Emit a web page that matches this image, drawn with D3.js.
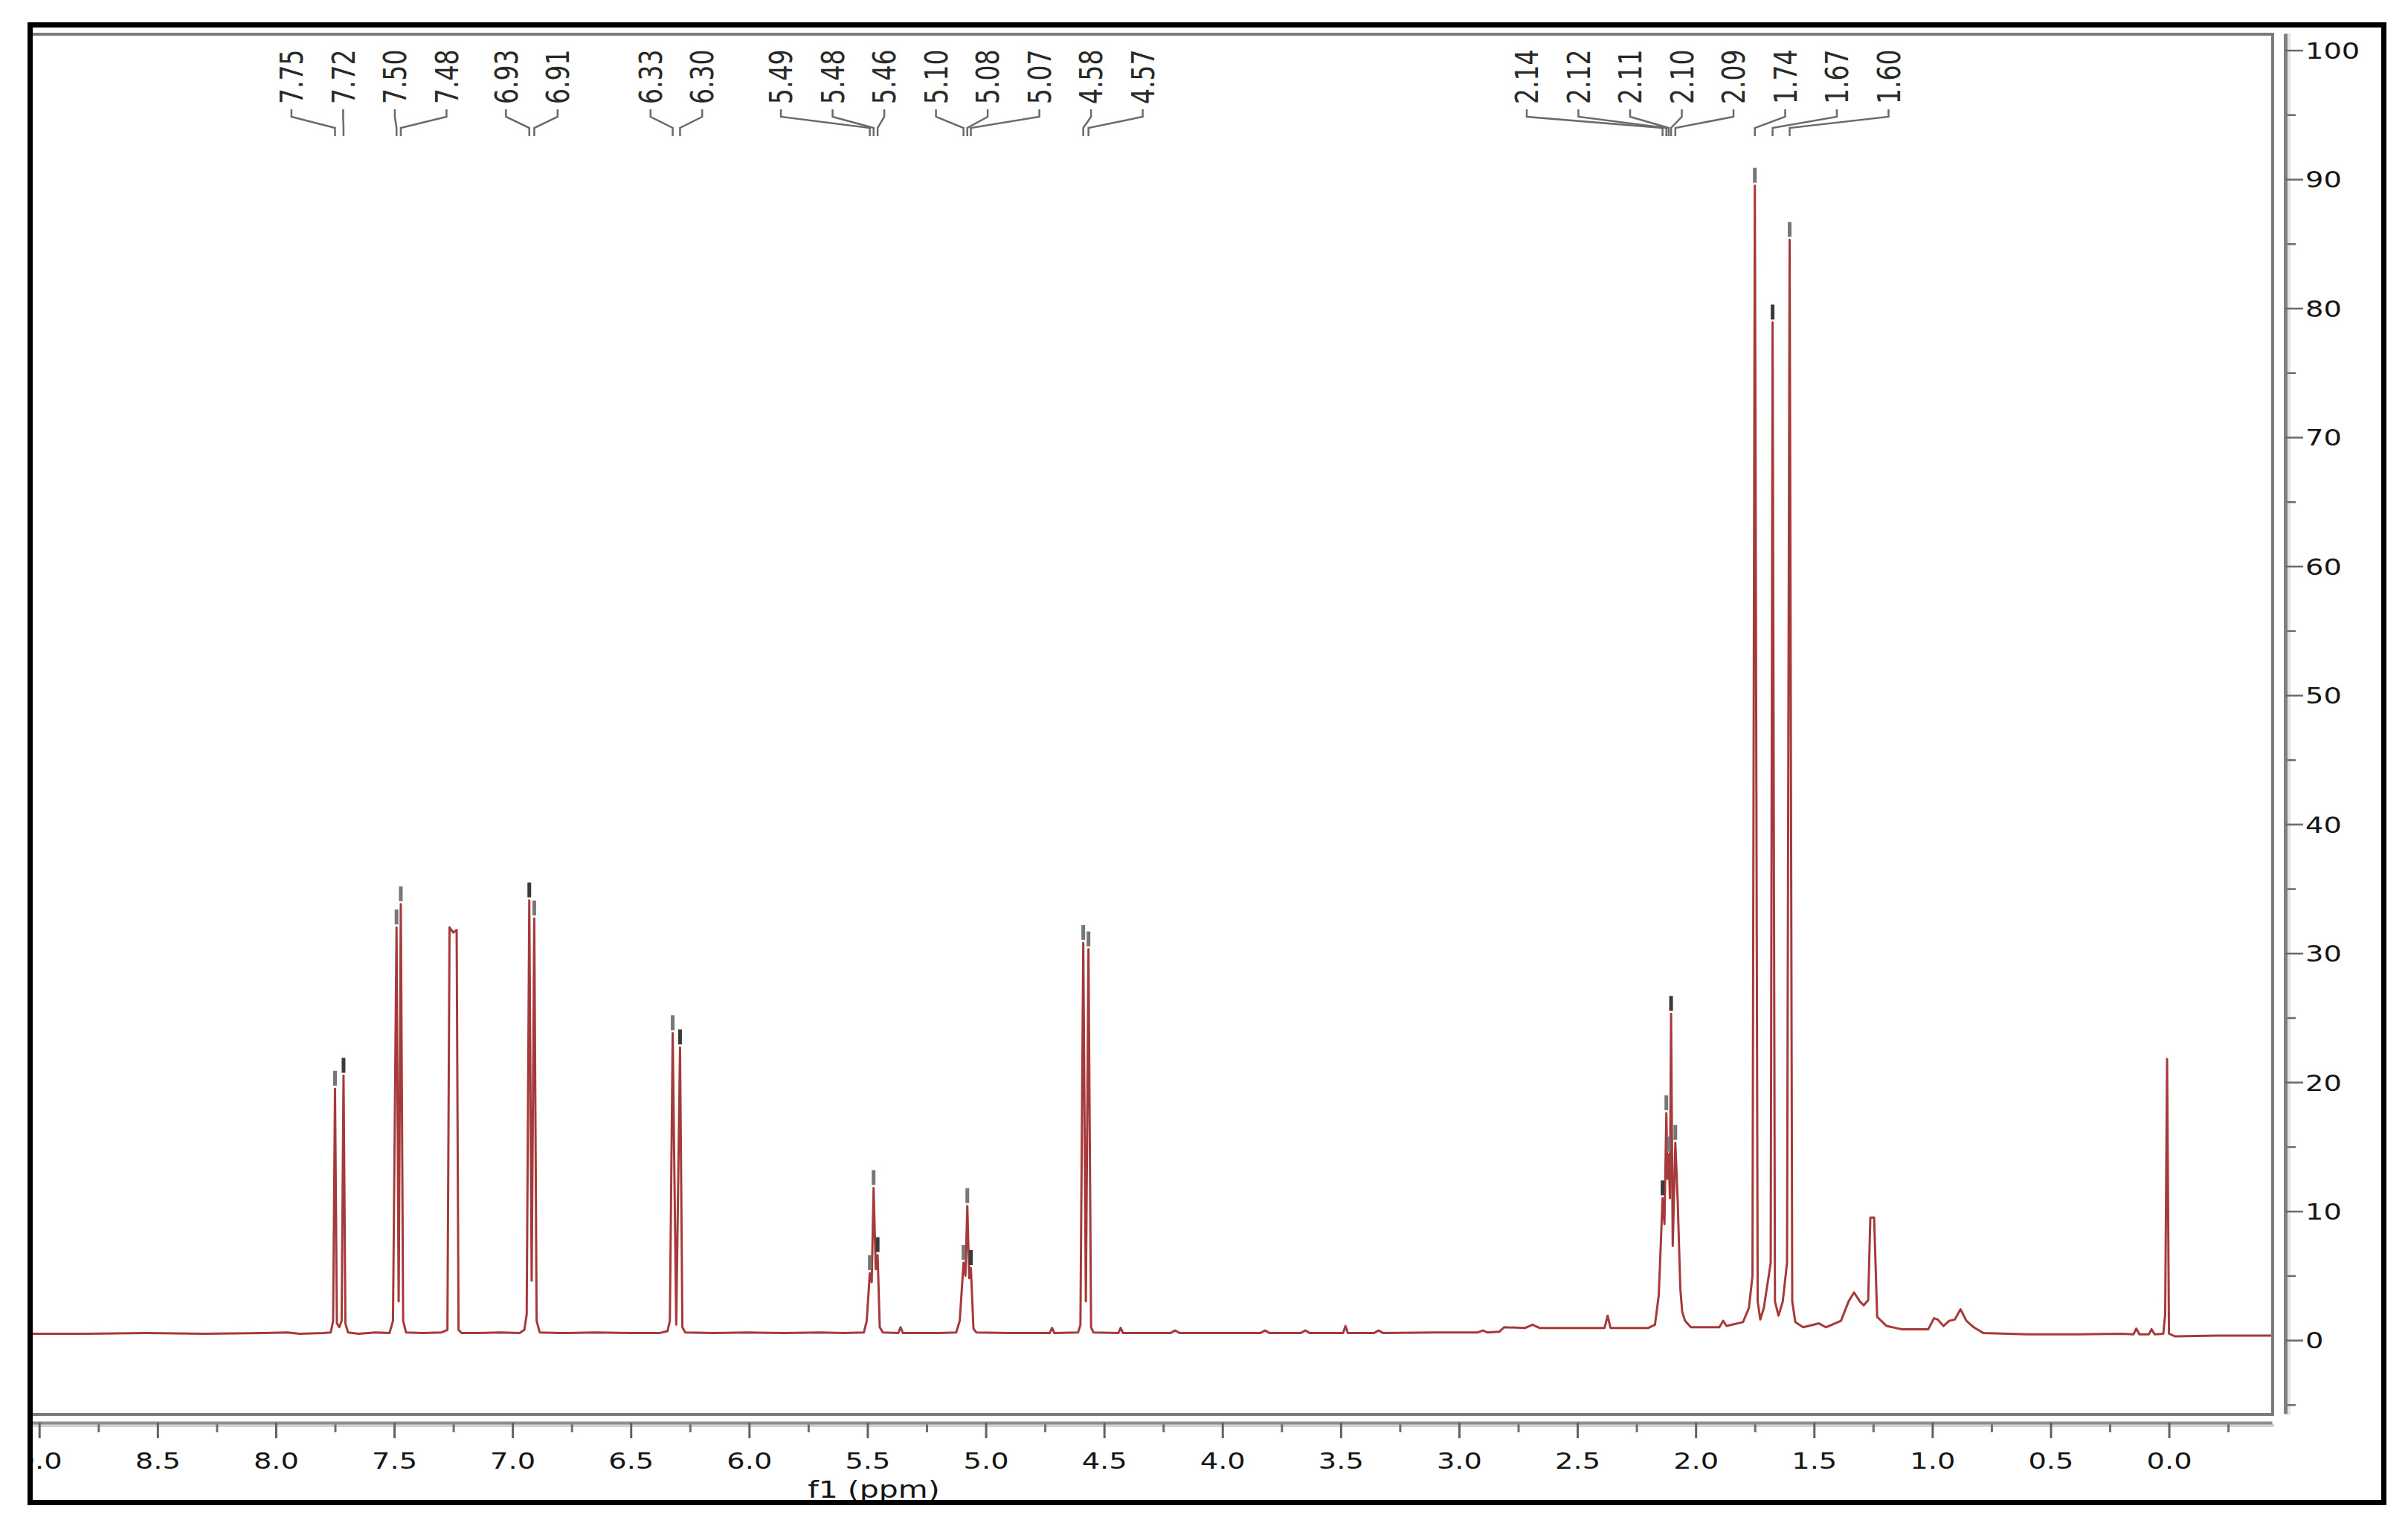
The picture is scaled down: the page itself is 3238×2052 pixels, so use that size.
<!DOCTYPE html>
<html>
<head>
<meta charset="utf-8">
<script src="https://cdn.jsdelivr.net/npm/d3@7"></script>
<style>
body { margin: 0; background: #fff; }
svg { display: block; }
</style>
</head>
<body>
<div id="nmr"></div>
<script>
var width = 3238, height = 2052;

// spectrum trace, [ppm, intensity]
var trace = [
  [9.04, 0.5], [8.80, 0.5], [8.55, 0.55], [8.30, 0.5], [8.05, 0.55], [7.95, 0.6], [7.90, 0.5], [7.80, 0.55],
  [7.768, 0.6], [7.758, 1.5], [7.750, 19.5], [7.742, 1.3], [7.732, 1.0], [7.722, 1.5], [7.714, 20.5], [7.706, 1.3], [7.695, 0.6],
  [7.65, 0.5], [7.58, 0.6], [7.52, 0.55],
  [7.505, 1.5], [7.490, 32.0], [7.481, 3.0], [7.472, 33.8], [7.462, 1.5], [7.450, 0.6],
  [7.38, 0.55], [7.30, 0.6],
  [7.275, 0.8], [7.266, 32.0], [7.250, 31.6], [7.236, 31.8], [7.228, 0.8], [7.215, 0.55],
  [7.15, 0.55], [7.05, 0.6], [6.97, 0.55],
  [6.950, 0.8], [6.940, 2.0], [6.929, 34.1], [6.919, 4.6], [6.908, 32.7], [6.898, 1.5], [6.885, 0.6],
  [6.80, 0.55], [6.65, 0.6], [6.50, 0.55], [6.38, 0.55], [6.345, 0.7],
  [6.335, 1.5], [6.323, 23.8], [6.308, 1.2], [6.292, 22.7], [6.282, 1.0], [6.270, 0.6],
  [6.15, 0.55], [6.00, 0.6], [5.85, 0.55], [5.70, 0.6], [5.60, 0.55], [5.515, 0.6],
  [5.503, 1.5], [5.490, 5.2], [5.482, 4.5], [5.474, 11.8], [5.465, 5.5], [5.457, 6.6], [5.448, 1.0], [5.435, 0.6],
  [5.37, 0.55], [5.36, 1.0], [5.35, 0.55], [5.20, 0.55], [5.125, 0.6],
  [5.110, 1.5], [5.094, 6.0], [5.086, 5.0], [5.078, 10.4], [5.070, 4.8], [5.063, 5.6], [5.052, 0.9], [5.040, 0.6],
  [4.90, 0.55], [4.73, 0.55], [4.72, 0.95], [4.71, 0.55], [4.61, 0.6],
  [4.600, 1.2], [4.588, 30.8], [4.577, 3.0], [4.566, 30.3], [4.555, 1.0], [4.545, 0.6],
  [4.44, 0.55], [4.43, 0.95], [4.42, 0.55], [4.22, 0.55], [4.20, 0.75], [4.18, 0.55],
  [3.84, 0.55], [3.82, 0.75], [3.80, 0.55], [3.67, 0.55], [3.65, 0.75], [3.63, 0.55],
  [3.49, 0.55], [3.48, 1.1], [3.47, 0.55], [3.36, 0.55], [3.34, 0.75], [3.32, 0.55],
  [3.10, 0.6], [2.92, 0.6], [2.90, 0.75], [2.88, 0.6], [2.83, 0.65], [2.81, 1.0],
  [2.72, 0.95], [2.69, 1.2], [2.66, 0.95], [2.40, 0.95], [2.385, 0.95], [2.372, 1.9], [2.36, 0.95], [2.20, 0.95],
  [2.172, 1.2], [2.156, 3.5], [2.148, 7.2],
  [2.140, 11.0], [2.132, 9.0], [2.124, 17.6], [2.119, 12.5], [2.114, 14.4], [2.109, 11.0], [2.104, 25.3],
  [2.097, 7.3], [2.086, 15.3], [2.076, 10.8], [2.065, 4.0], [2.057, 2.2], [2.045, 1.5], [2.02, 1.0],
  [1.90, 1.0], [1.884, 1.5], [1.87, 1.1], [1.80, 1.4], [1.775, 2.5],
  [1.760, 5.0], [1.750, 89.5], [1.738, 3.0], [1.727, 1.6], [1.712, 2.5],
  [1.683, 6.0], [1.675, 78.9], [1.665, 3.0], [1.650, 1.9], [1.632, 3.0],
  [1.614, 6.0], [1.603, 85.3], [1.592, 3.0], [1.579, 1.4], [1.546, 1.0], [1.479, 1.3], [1.45, 1.0],
  [1.386, 1.5], [1.354, 3.0], [1.331, 3.7], [1.306, 3.0], [1.290, 2.7], [1.271, 3.1],
  [1.262, 9.5], [1.246, 9.5], [1.233, 1.8], [1.193, 1.1], [1.13, 0.85], [1.017, 0.85],
  [0.993, 1.7], [0.977, 1.6], [0.953, 1.1], [0.929, 1.5], [0.905, 1.6], [0.881, 2.4], [0.856, 1.5],
  [0.825, 1.0], [0.784, 0.55], [0.60, 0.45], [0.40, 0.45], [0.20, 0.5], [0.15, 0.45], [0.138, 0.9], [0.125, 0.45],
  [0.085, 0.45], [0.074, 0.85], [0.06, 0.45], [0.024, 0.5], [0.016, 2.0], [0.008, 21.8], [0.000, 0.5],
  [-0.025, 0.3], [-0.20, 0.35], [-0.435, 0.35]
];

// picked peaks: label, position (ppm), top intensity, multiplet
var peakLabels = ["7.75", "7.72", "7.50", "7.48", "6.93", "6.91", "6.33", "6.30",
  "5.49", "5.48", "5.46", "5.10", "5.08", "5.07", "4.58", "4.57",
  "2.14", "2.12", "2.11", "2.10", "2.09", "1.74", "1.67", "1.60"];
var peakPpm = [7.750, 7.714, 7.490, 7.472, 6.929, 6.908, 6.323, 6.292,
  5.490, 5.474, 5.457, 5.094, 5.078, 5.063, 4.588, 4.566,
  2.140, 2.124, 2.114, 2.104, 2.086, 1.750, 1.675, 1.603];
var peakTop = [19.5, 20.5, 32.0, 33.8, 34.1, 32.7, 23.8, 22.7,
  5.2, 11.8, 6.6, 6.0, 10.4, 5.6, 30.8, 30.3,
  11.0, 17.6, 14.4, 25.3, 15.3, 89.5, 78.9, 85.3];
var peakGroup = [0, 0, 1, 1, 2, 2, 3, 3, 4, 4, 4, 5, 5, 5, 6, 6, 7, 7, 7, 7, 7, 8, 8, 8];

var xTicks = [9.0, 8.5, 8.0, 7.5, 7.0, 6.5, 6.0, 5.5, 5.0, 4.5, 4.0, 3.5, 3.0, 2.5, 2.0, 1.5, 1.0, 0.5, 0.0];
var yTicks = [0, 10, 20, 30, 40, 50, 60, 70, 80, 90, 100];

var x = d3.scaleLinear().domain([9.04, -0.435]).range([40, 3055]);
var y = d3.scaleLinear().domain([-5.7, 101.3]).range([1901, 45]);

var font = "DejaVu Sans, Verdana, sans-serif";
var stretch = " scale(1.28,1)";

var svg = d3.select("#nmr").append("svg")
  .attr("width", width)
  .attr("height", height);

var defs = svg.append("defs");
defs.append("clipPath").attr("id", "frame-clip")
  .append("rect").attr("x", 44).attr("y", 37).attr("width", 3161).attr("height", 1983);
defs.append("clipPath").attr("id", "plot-clip")
  .append("rect").attr("x", 42).attr("y", 48).attr("width", 3012).attr("height", 1852);

svg.append("rect")
  .attr("width", width).attr("height", height)
  .attr("fill", "#fff");

var chart = svg.append("g").attr("clip-path", "url(#frame-clip)");

// plot box
chart.append("rect")
  .attr("x", 40).attr("y", 46)
  .attr("width", 3016).attr("height", 1856)
  .attr("fill", "none")
  .attr("stroke", "#7b7b7b")
  .attr("stroke-width", 4);

var plot = chart.append("g").attr("clip-path", "url(#plot-clip)");

var line = d3.line()
  .x(function(d) { return x(d[0]); })
  .y(function(d) { return y(d[1]); });

plot.append("path")
  .datum(trace)
  .attr("d", line)
  .attr("fill", "none")
  .attr("stroke", "#a63a3a")
  .attr("stroke-width", 3)
  .attr("stroke-linejoin", "round");

// peak pick markers
plot.selectAll(".marker")
  .data(peakPpm)
  .enter().append("rect")
  .attr("class", "marker")
  .attr("x", function(d) { return x(d) - 2.5; })
  .attr("y", function(d, i) { return y(peakTop[i]) - 24; })
  .attr("width", 5)
  .attr("height", 20)
  .attr("fill", function(d, i) { return i % 3 == 1 ? "#3a3a3a" : "#777"; });

/////////////////////////////////////////////////////////////////////////
//////////////////////// Peak labels ////////////////////////////////////
/////////////////////////////////////////////////////////////////////////

var peakX = peakPpm.map(function(p) { return x(p); });
var slot = 69.5;

var blocks = d3.groups(d3.range(peakLabels.length), function(i) { return peakGroup[i]; })
  .map(function(g) { return g[1]; });

function place(b) {
  var c = d3.mean(b, function(i) { return peakX[i]; });
  return b.map(function(i, k) { return c + (k - (b.length - 1) / 2) * slot; });
}

// merge neighbouring multiplets while their label rows overlap
var merged = true;
while (merged) {
  merged = false;
  for (var k = 0; k < blocks.length - 1; k++) {
    var a = place(blocks[k]), b = place(blocks[k + 1]);
    if (b[0] - a[a.length - 1] < slot) {
      blocks.splice(k, 2, blocks[k].concat(blocks[k + 1]));
      merged = true;
      break;
    }
  }
}

var labelX = [];
blocks.forEach(function(b) {
  var p = place(b);
  b.forEach(function(i, k) { labelX[i] = p[k]; });
});

var labels = chart.append("g");

labels.selectAll("path")
  .data(peakLabels)
  .enter().append("path")
  .attr("d", function(d, i) {
    return "M" + labelX[i] + ",147V157L" + peakX[i] + ",172V183";
  })
  .attr("fill", "none")
  .attr("stroke", "#6a6a6a")
  .attr("stroke-width", 2.5);

labels.selectAll("text")
  .data(peakLabels)
  .enter().append("text")
  .attr("transform", function(d, i) {
    return "translate(" + labelX[i] + ",140)" + stretch + " rotate(-90)";
  })
  .attr("dy", "0.36em")
  .style("font-family", font)
  .style("font-size", "33px")
  .attr("fill", "#2a2a2a")
  .text(function(d) { return d; });

/////////////////////////////////////////////////////////////////////////
//////////////////////// Axes ///////////////////////////////////////////
/////////////////////////////////////////////////////////////////////////

// x axis
chart.append("rect")
  .attr("x", 40).attr("y", 1915)
  .attr("width", 3018).attr("height", 4)
  .attr("fill", "#d2d2d2");

var xMinor = chart.append("g")
  .attr("transform", "translate(0,1913)")
  .call(d3.axisBottom(x).tickValues(d3.range(-0.25, 9.2, 0.5)).tickSize(13).tickSizeOuter(0).tickFormat(""));
xMinor.select(".domain").remove();
xMinor.selectAll(".tick line").attr("stroke", "#6f6f6f").attr("stroke-width", 3);

var xAxis = chart.append("g")
  .attr("transform", "translate(0,1913)")
  .call(d3.axisBottom(x).tickValues(xTicks).tickSize(21).tickSizeOuter(0).tickFormat(d3.format(".1f")));
xAxis.select(".domain").attr("stroke", "#8e8e8e").attr("stroke-width", 4);
xAxis.selectAll(".tick line").attr("stroke", "#626262").attr("stroke-width", 3);
xAxis.selectAll(".tick text")
  .attr("y", 0)
  .attr("dy", "0.36em")
  .attr("transform", "translate(0,51)" + stretch)
  .style("font-family", font)
  .style("font-size", "30px")
  .attr("fill", "#151515");

chart.append("text")
  .attr("transform", "translate(1175,2014)" + stretch)
  .attr("text-anchor", "middle")
  .style("font-family", font)
  .style("font-size", "32px")
  .attr("fill", "#151515")
  .text("f1 (ppm)");

// y axis on the right
chart.append("rect")
  .attr("x", 3076).attr("y", 45)
  .attr("width", 4).attr("height", 1858)
  .attr("fill", "#e4e4e4");

var yMinor = chart.append("g")
  .attr("transform", "translate(3073,0)")
  .call(d3.axisRight(y).tickValues(d3.range(-5, 100, 10)).tickSize(14).tickSizeOuter(0).tickFormat(""));
yMinor.select(".domain").remove();
yMinor.selectAll(".tick line").attr("stroke", "#6a6a6a").attr("stroke-width", 2.5);

var yAxis = chart.append("g")
  .attr("transform", "translate(3073,0)")
  .call(d3.axisRight(y).tickValues(yTicks).tickSize(24).tickSizeOuter(0));
yAxis.select(".domain").attr("stroke", "#808080").attr("stroke-width", 5);
yAxis.selectAll(".tick line").attr("stroke", "#6a6a6a").attr("stroke-width", 2.5);
yAxis.selectAll(".tick text")
  .attr("x", 0)
  .attr("dy", "0.36em")
  .attr("transform", "translate(27,0)" + stretch)
  .style("font-family", font)
  .style("font-size", "30px")
  .attr("fill", "#151515");

// outer black frame
svg.append("rect")
  .attr("x", 40.5).attr("y", 33.5)
  .attr("width", 3165).attr("height", 1987)
  .attr("fill", "none")
  .attr("stroke", "#000")
  .attr("stroke-width", 7);
</script>
</body>
</html>
